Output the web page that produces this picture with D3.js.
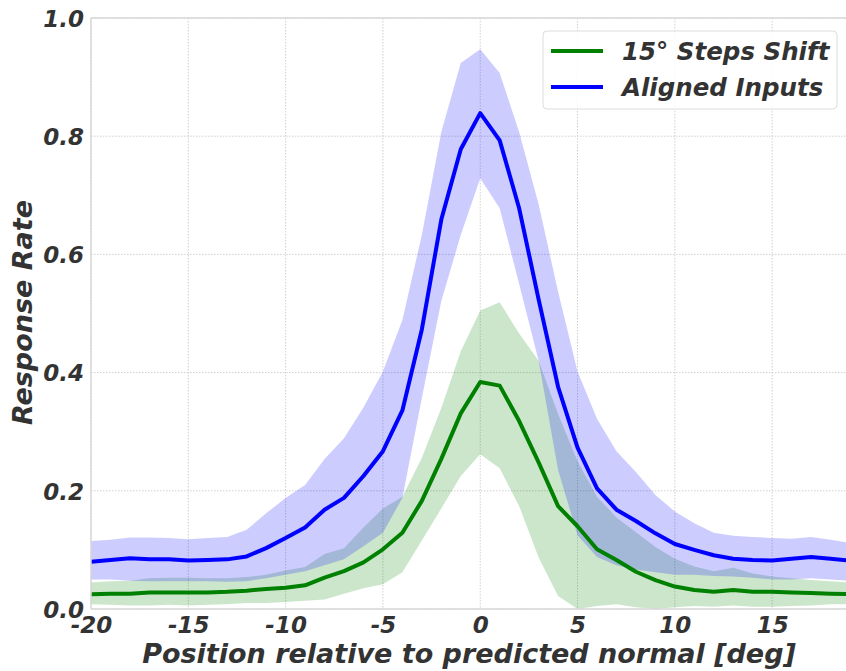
<!DOCTYPE html>
<html>
<head>
<meta charset="utf-8">
<script src="https://cdn.jsdelivr.net/npm/d3@7"></script>
<style>
  html, body { margin: 0; padding: 0; background: #fff; }
  svg { display: block; }
  text { font-family: "DejaVu Sans", sans-serif; font-weight: bold; font-style: italic; fill: #333; }
</style>
</head>
<body>
<svg id="chart" width="846" height="671"></svg>
<script>
// Position relative to predicted normal, in degrees
const positions = d3.range(-20, 20);

// Aligned inputs: mean response rate and its band
const alignedMean = [0.080, 0.083, 0.086, 0.084, 0.084, 0.082, 0.083, 0.084, 0.089, 0.103,
                     0.120, 0.138, 0.168, 0.188, 0.225, 0.267, 0.336, 0.473, 0.659, 0.778,
                     0.839, 0.793, 0.678, 0.524, 0.376, 0.273, 0.204, 0.168, 0.149, 0.128,
                     0.110, 0.100, 0.091, 0.085, 0.083, 0.082, 0.085, 0.088, 0.085, 0.082];
const alignedUpper = [0.115, 0.117, 0.121, 0.121, 0.120, 0.118, 0.120, 0.122, 0.134, 0.162,
                      0.188, 0.210, 0.254, 0.289, 0.341, 0.402, 0.489, 0.633, 0.807, 0.924,
                      0.947, 0.907, 0.807, 0.685, 0.537, 0.402, 0.322, 0.267, 0.232, 0.193,
                      0.165, 0.145, 0.129, 0.124, 0.122, 0.120, 0.119, 0.122, 0.117, 0.112];
const alignedLower = [0.050, 0.050, 0.048, 0.047, 0.047, 0.047, 0.047, 0.046, 0.047, 0.052,
                      0.058, 0.064, 0.074, 0.084, 0.106, 0.129, 0.188, 0.357, 0.521, 0.633,
                      0.729, 0.678, 0.550, 0.420, 0.235, 0.125, 0.088, 0.074, 0.067, 0.062,
                      0.058, 0.058, 0.056, 0.055, 0.053, 0.050, 0.050, 0.052, 0.050, 0.048];

// 15° steps shift: mean response rate and its band
const shiftMean = [0.025, 0.026, 0.026, 0.028, 0.028, 0.028, 0.028, 0.029, 0.031, 0.034,
                   0.036, 0.040, 0.053, 0.064, 0.079, 0.101, 0.129, 0.183, 0.254, 0.331,
                   0.384, 0.378, 0.318, 0.248, 0.174, 0.140, 0.101, 0.083, 0.063, 0.049,
                   0.038, 0.032, 0.029, 0.032, 0.029, 0.029, 0.028, 0.027, 0.026, 0.025];
const shiftUpper = [0.045, 0.047, 0.048, 0.052, 0.053, 0.053, 0.052, 0.052, 0.054, 0.058,
                    0.065, 0.071, 0.093, 0.103, 0.138, 0.170, 0.190, 0.256, 0.340, 0.436,
                    0.505, 0.519, 0.466, 0.420, 0.330, 0.250, 0.190, 0.155, 0.130, 0.105,
                    0.085, 0.072, 0.064, 0.070, 0.060, 0.055, 0.052, 0.049, 0.047, 0.045];
const shiftLower = [0.008, 0.007, 0.006, 0.006, 0.007, 0.006, 0.007, 0.008, 0.010, 0.010,
                    0.012, 0.014, 0.016, 0.026, 0.035, 0.042, 0.062, 0.116, 0.170, 0.225,
                    0.262, 0.238, 0.174, 0.087, 0.022, 0.000, 0.005, 0.008, 0.003, 0.000,
                    0.003, 0.005, 0.004, 0.006, 0.004, 0.004, 0.005, 0.006, 0.008, 0.008];

const xTicks = [-20, -15, -10, -5, 0, 5, 10, 15];
const yTicks = [0.0, 0.2, 0.4, 0.6, 0.8, 1.0];

const seriesList = [
  { name: "15\u00b0 Steps Shift", color: "#008000", mean: shiftMean, lo: shiftLower, hi: shiftUpper },
  { name: "Aligned Inputs", color: "#0000ff", mean: alignedMean, lo: alignedLower, hi: alignedUpper }
];

const svg = d3.select("#chart");
const W = 846, H = 671;
const plot = { left: 91, right: 850, top: 18, bottom: 609 };

svg.append("rect").attr("width", W).attr("height", H).attr("fill", "#fff");

const x = d3.scaleLinear().domain([-20, 19]).range([plot.left, plot.right]);
const y = d3.scaleLinear().domain([0, 1]).range([plot.bottom, plot.top]);

// grid
const grid = svg.append("g");
grid.selectAll("line.vx").data(xTicks).join("line")
  .attr("x1", d => x(d)).attr("x2", d => x(d))
  .attr("y1", plot.top).attr("y2", plot.bottom)
  .attr("stroke", "#cfcfcf").attr("stroke-width", 1).attr("stroke-dasharray", "1.5,1.5");
grid.selectAll("line.hy").data(yTicks).join("line")
  .attr("x1", plot.left).attr("x2", plot.right)
  .attr("y1", d => y(d)).attr("y2", d => y(d))
  .attr("stroke", "#cfcfcf").attr("stroke-width", 1).attr("stroke-dasharray", "1.5,1.5");

// bands then mean lines
svg.append("clipPath").attr("id", "plotclip").append("rect")
  .attr("x", plot.left).attr("y", plot.top)
  .attr("width", plot.right - plot.left).attr("height", plot.bottom - plot.top);
const layer = svg.append("g").attr("clip-path", "url(#plotclip)");

seriesList.forEach(s => {
  const area = d3.area()
    .x((d, i) => x(positions[i]))
    .y0((d, i) => y(s.lo[i]))
    .y1((d, i) => y(s.hi[i]));
  layer.append("path").datum(s.mean).attr("d", area)
    .attr("fill", s.color).attr("fill-opacity", 0.2);
});
seriesList.forEach(s => {
  const line = d3.line().x((d, i) => x(positions[i])).y(d => y(d));
  layer.append("path").datum(s.mean).attr("d", line)
    .attr("fill", "none").attr("stroke", s.color).attr("stroke-width", 4)
    .attr("stroke-linejoin", "round");
});

// spines
const spine = "#d9d9d9";
svg.append("line").attr("x1", plot.left).attr("x2", plot.left).attr("y1", plot.top).attr("y2", plot.bottom)
  .attr("stroke", spine).attr("stroke-width", 1.5);
svg.append("line").attr("x1", plot.left).attr("x2", W).attr("y1", plot.top).attr("y2", plot.top)
  .attr("stroke", spine).attr("stroke-width", 1.5);
svg.append("line").attr("x1", plot.left).attr("x2", W).attr("y1", plot.bottom).attr("y2", plot.bottom)
  .attr("stroke", spine).attr("stroke-width", 1.5);

// axes (tick text only; domain and tick marks hidden)
const xAxis = svg.append("g").attr("transform", `translate(0,${plot.bottom})`)
  .call(d3.axisBottom(x).tickValues(xTicks).tickFormat(d => String(d)).tickSize(0).tickPadding(0));
xAxis.select(".domain").remove();
xAxis.selectAll("text").attr("font-size", 23).attr("dy", null).attr("y", 24)
  .attr("font-family", "DejaVu Sans").attr("fill", "#333");

const yAxis = svg.append("g").attr("transform", `translate(${plot.left},0)`)
  .call(d3.axisLeft(y).tickValues(yTicks).tickFormat(d3.format(".1f")).tickSize(0).tickPadding(0));
yAxis.select(".domain").remove();
yAxis.selectAll("text").attr("font-size", 23).attr("x", -7).attr("dy", "0.36em")
  .attr("font-family", "DejaVu Sans").attr("fill", "#333");

// axis titles
svg.append("text").attr("x", 469).attr("y", 663)
  .attr("text-anchor", "middle").attr("font-size", 27)
  .text("Position relative to predicted normal [deg]");
svg.append("text").attr("transform", `translate(32,${(plot.top + plot.bottom) / 2 - 1}) rotate(-90)`)
  .attr("text-anchor", "middle").attr("font-size", 27)
  .text("Response Rate");

// legend
const legend = svg.append("g");
legend.append("rect").attr("x", 543).attr("y", 31).attr("width", 294).attr("height", 78)
  .attr("rx", 4).attr("fill", "#fff").attr("fill-opacity", 0.85)
  .attr("stroke", "#dcdcdc").attr("stroke-width", 1);
seriesList.forEach((s, i) => {
  const ly = 51 + i * 36;
  legend.append("line").attr("x1", 551).attr("x2", 603).attr("y1", ly).attr("y2", ly)
    .attr("stroke", s.color).attr("stroke-width", 4);
  legend.append("text").attr("x", 622).attr("y", ly).attr("dy", "0.36em")
    .attr("font-size", 24.5).text(s.name);
});
</script>
</body>
</html>
